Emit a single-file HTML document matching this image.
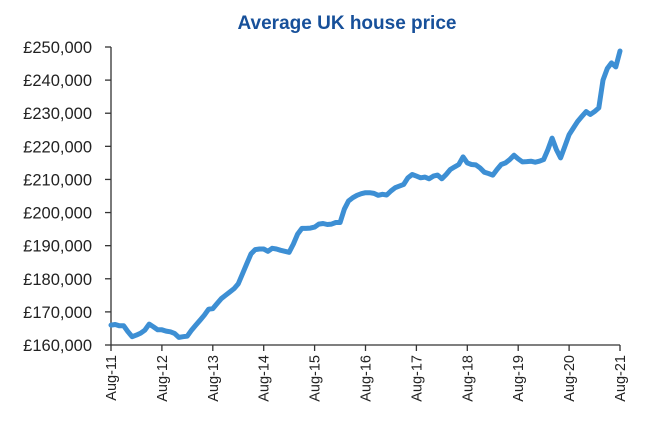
<!DOCTYPE html>
<html><head><meta charset="utf-8"><style>
body{margin:0;background:#fff;}
svg{display:block;font-family:"Liberation Sans",sans-serif;}
</style></head><body>
<svg id="chart" width="647" height="426"></svg>
<script>
const yTicks=[160000,170000,180000,190000,200000,210000,220000,230000,240000,250000];
const xLabels=["Aug-11","Aug-12","Aug-13","Aug-14","Aug-15","Aug-16","Aug-17","Aug-18","Aug-19","Aug-20","Aug-21"];
const prices=[166.0,166.2,165.8,165.8,164,162.5,163,163.6,164.5,166.3,165.5,164.6,164.6,164.2,164,163.5,162.3,162.5,162.7,164.5,166,167.5,169,170.8,171,172.5,174,175,176,177,178.5,181.5,184.5,187.5,188.8,189,189,188.3,189.2,189,188.6,188.3,188,190.5,193.5,195.2,195.2,195.3,195.6,196.5,196.7,196.4,196.5,197,197,201,203.5,204.5,205.2,205.7,206,206,205.8,205.2,205.5,205.3,206.5,207.5,208,208.5,210.5,211.5,211,210.5,210.7,210.2,211,211.3,210.2,211.5,213,213.8,214.5,216.8,215,214.5,214.4,213.5,212.2,211.8,211.3,213,214.5,215,216,217.3,216.2,215.3,215.4,215.5,215.2,215.5,216,219,222.5,219,216.5,220,223.5,225.5,227.5,229,230.5,229.6,230.5,231.6,240,243.5,245.2,244,248.8];
const NS="http://www.w3.org/2000/svg";
const svg=document.getElementById('chart');
const x0=111,x1=620,yTop=47,yBot=345;
const xScale=i=>x0+(x1-x0)*i/(prices.length-1);
const yScale=v=>yBot-(v-160000)/(250000-160000)*(yBot-yTop);
function mk(t,a){const e=document.createElementNS(NS,t);for(const k in a)e.setAttribute(k,a[k]);svg.appendChild(e);return e;}
const title=mk('text',{x:347,y:29,'text-anchor':'middle','font-size':19,'font-weight':600,fill:'#17509a'});
title.textContent='Average UK house price';


const ya=mk('line',{x1:x0,y1:yTop,x2:x0,y2:yBot,stroke:'#333','stroke-width':1.3});


const xa=mk('line',{x1:x0,y1:yBot,x2:x1,y2:yBot,stroke:'#333','stroke-width':1.3});


yTicks.forEach(v=>{
  const y=yScale(v);
  const tk=mk('line',{x1:x0-6,y1:y,x2:x0,y2:y,stroke:'#333','stroke-width':1.3});
  
  
  const t=mk('text',{x:92,y:y+6,'text-anchor':'end','font-size':16.5,fill:'#222'});
  t.textContent='£'+v.toLocaleString('en-GB');
  
  
});
xLabels.forEach((l,k)=>{
  const x=x0+(x1-x0)*k/(xLabels.length-1);
  const tk=mk('line',{x1:x,y1:yBot,x2:x,y2:yBot+6,stroke:'#333','stroke-width':1.3});
  
  
  const t=mk('text',{x:0,y:0,'text-anchor':'end','font-size':14.5,fill:'#222',transform:`translate(${x+5},${yBot+10}) rotate(-90)`});
  t.textContent=l;
  
  
});
const d=prices.map((v,i)=>(i?'L':'M')+xScale(i).toFixed(1)+','+yScale(v*1000).toFixed(1)).join('');
const p=mk('path',{d:d,fill:'none',stroke:'#3d8fd4','stroke-width':5,'stroke-linejoin':'round','stroke-linecap':'round'});


</script>
</body></html>
